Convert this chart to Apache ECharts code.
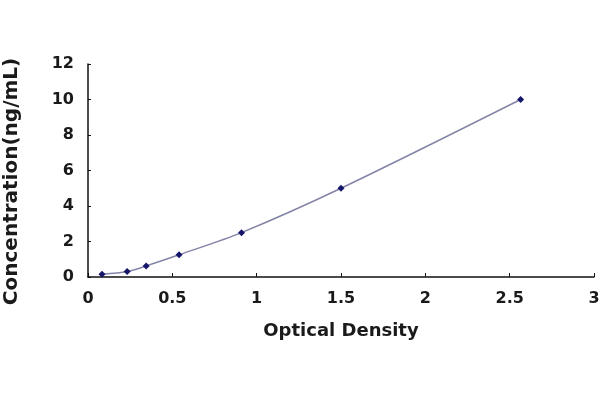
<!DOCTYPE html>
<html>
<head>
<meta charset="utf-8">
<script src="https://cdn.jsdelivr.net/npm/echarts@6/dist/echarts.min.js"></script>
<style>html,body{margin:0;padding:0;background:#fff}#c{width:600px;height:400px}</style>
</head>
<body>
<div id="c"></div>
<script>
var odValues = [0.083, 0.232, 0.345, 0.54, 0.91, 1.5, 2.565];
var concValues = [0.156, 0.312, 0.625, 1.25, 2.5, 5, 10];
var xTicks = ['0', '0.5', '1', '1.5', '2', '2.5', '3'];
var yTicks = ['0', '2', '4', '6', '8', '10', '12'];

var points = odValues.map(function (x, i) { return [x, concValues[i]]; });
var font = 'DejaVu Sans';
var chart = echarts.init(document.getElementById('c'), null, {renderer: 'canvas'});
chart.setOption({
  animation: false,
  backgroundColor: '#fff',
  grid: {left: 88, right: 6, top: 64, bottom: 123, containLabel: false, outerBoundsMode: 'none'},
  xAxis: {
    type: 'value', min: 0, max: 3, interval: 0.5,
    name: 'Optical Density', nameLocation: 'middle', nameGap: 45,
    nameTextStyle: {fontFamily: font, fontWeight: 'bold', fontSize: 18, color: '#1a1a1a'},
    axisLine: {show: true, lineStyle: {color: '#111', width: 1.5}},
    axisTick: {show: true, inside: true, length: 4, lineStyle: {color: '#111'}},
    splitLine: {show: false},
    axisLabel: {fontFamily: font, fontWeight: 'bold', fontSize: 16, color: '#1a1a1a', margin: 14,
      formatter: function (v) { return xTicks[Math.round(v / 0.5)]; }}
  },
  yAxis: {
    type: 'value', min: 0, max: 12, interval: 2,
    name: 'Concentration(ng/mL)', nameLocation: 'middle', nameGap: 66,
    nameTextStyle: {fontFamily: font, fontWeight: 'bold', fontSize: 20, color: '#1a1a1a', padding: [0, 22, 0, 0]},
    axisLine: {show: true, lineStyle: {color: '#111', width: 1.5}},
    axisTick: {show: true, inside: true, length: 3, lineStyle: {color: '#111'}},
    splitLine: {show: false},
    axisLabel: {fontFamily: font, fontWeight: 'bold', fontSize: 16, color: '#1a1a1a', margin: 14,
      formatter: function (v) { return yTicks[Math.round(v / 2)]; }}
  },
  series: [{
    type: 'line', data: points, smooth: 0.3,
    symbol: 'diamond', symbolSize: 7,
    itemStyle: {color: '#15156a'},
    lineStyle: {color: '#8484a8', width: 1.5}
  }]
});
</script>
</body>
</html>
